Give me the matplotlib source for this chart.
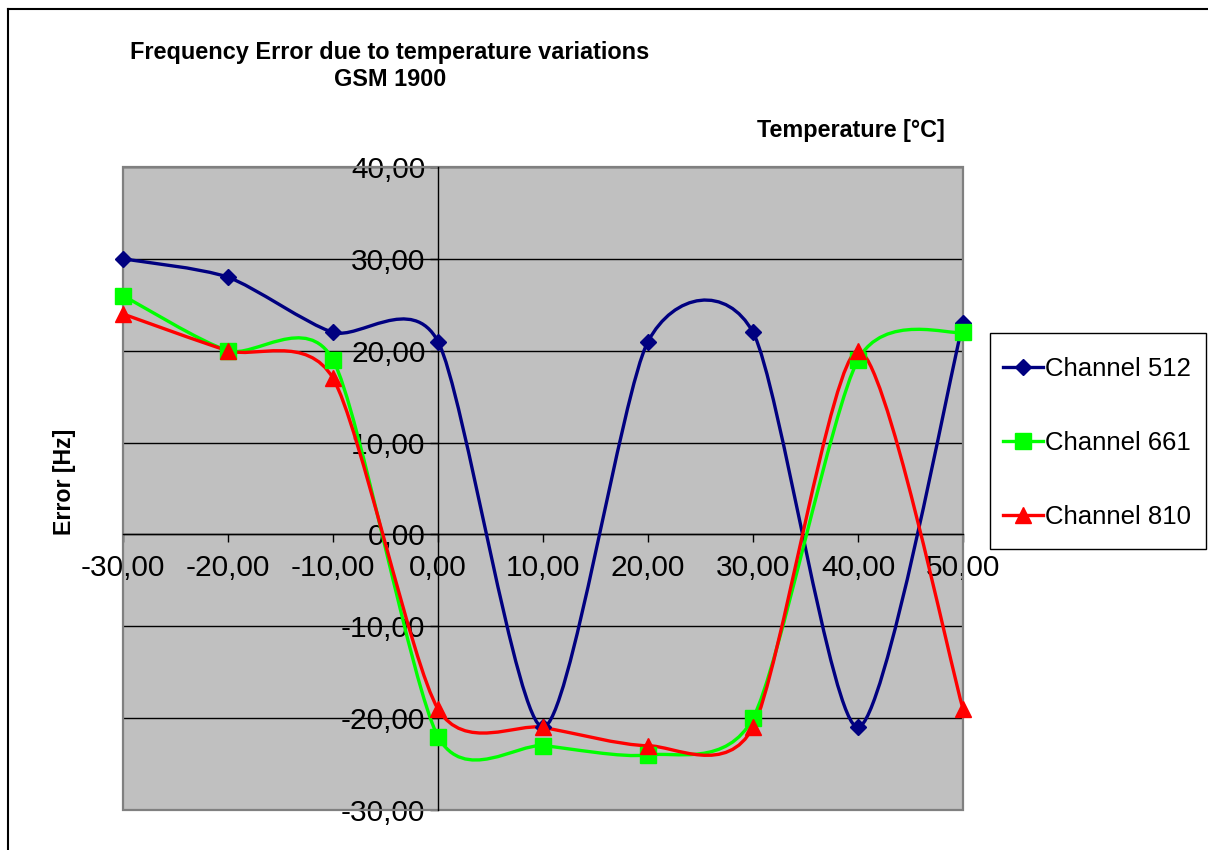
import numpy as np
import matplotlib.pyplot as plt
from matplotlib.path import Path
from matplotlib.patches import PathPatch, Rectangle
from matplotlib.lines import Line2D
from matplotlib.ticker import FuncFormatter

plt.rcParams['font.family'] = ['Liberation Sans', 'DejaVu Sans']

# data
temps = [-30, -20, -10, 0, 10, 20, 30, 40, 50]
ch512 = [30, 28, 22, 21, -21, 21, 22, -21, 23]
ch661 = [26, 20, 19, -22, -23, -24, -20, 19, 22]
ch810 = [24, 20, 17, -19, -21, -23, -21, 20, -19]

series = [
    ('Channel 512', ch512, '#000080', 'D', 8),
    ('Channel 661', ch661, '#00ff00', 's', 11),
    ('Channel 810', ch810, '#ff0000', '^', 11.5),
]

TENSION = 0.125  # a bit flatter than plain catmull-rom, closer to excel


def smooth_path(x, y):
    # excel-like smoothed line drawn as cubic bezier segments
    pts = np.column_stack([x, y]).astype(float)
    ext = np.vstack([pts[0], pts, pts[-1]])
    verts = [pts[0]]
    codes = [Path.MOVETO]
    for i in range(len(pts) - 1):
        p0, p1, p2, p3 = ext[i], ext[i + 1], ext[i + 2], ext[i + 3]
        verts += [p1 + (p2 - p0) * TENSION, p2 - (p3 - p1) * TENSION, p2]
        codes += [Path.CURVE4] * 3
    return Path(verts, codes)


fig = plt.figure(figsize=(12.08, 8.5), dpi=100)
ax = fig.add_axes([123 / 1208, 40 / 850, 840 / 1208, 643 / 850])
ax.set_facecolor('#c0c0c0')
ax.set_xlim(-30, 50)
ax.set_ylim(-30, 40)

ax.set_yticks(np.arange(-30, 41, 10))
ax.set_xticks(temps)
ax.yaxis.grid(True, color='black', lw=1.0)
ax.set_axisbelow(True)

fmt = FuncFormatter(lambda v, p: f'{v:.2f}'.replace('.', ','))
ax.xaxis.set_major_formatter(fmt)
ax.yaxis.set_major_formatter(fmt)

for s in ['top', 'right']:
    ax.spines[s].set_visible(False)
ax.spines['left'].set_position(('data', 0))
ax.spines['bottom'].set_position(('data', 0))
ax.spines['left'].set_linewidth(1.0)
ax.spines['bottom'].set_linewidth(1.0)
ax.add_patch(Rectangle((0, 0), 1, 1, transform=ax.transAxes, fill=False,
                       ec='#808080', lw=1.6, zorder=0.8, clip_on=False))

ax.tick_params(axis='both', direction='out', length=6, width=1.0,
               labelsize=21.5, color='black')
ax.tick_params(axis='y', pad=3)
ax.tick_params(axis='x', pad=8)

handles = []
for name, vals, col, mk, ms in series:
    ax.add_patch(PathPatch(smooth_path(temps, vals), fill=False, ec=col,
                           lw=2.4, zorder=3))
    ax.plot(temps, vals, ls='none', marker=mk, ms=ms, color=col,
            clip_on=False, zorder=4)
    handles.append(Line2D([], [], color=col, lw=2.4, marker=mk, ms=ms))

fig.text(390 / 1208, 1 - 66 / 850,
         'Frequency Error due to temperature variations\nGSM 1900',
         ha='center', va='center', fontsize=16.9, fontweight='bold',
         linespacing=1.25)
fig.text(851 / 1208, 1 - 131 / 850, 'Temperature [°C]', ha='center',
         va='center', fontsize=16.8, fontweight='bold')
fig.text(65 / 1208, 1 - 482 / 850, 'Error [Hz]', ha='center', va='center',
         fontsize=16.7, fontweight='bold', rotation=90)

# legend box drawn by hand, entries placed inside it
fig.add_artist(Rectangle((990 / 1208, 1 - 549 / 850), 216 / 1208, 216 / 850,
                         transform=fig.transFigure, fill=False, ec='black',
                         lw=1.0))
fig.legend(handles, [s[0] for s in series], loc='center left',
           bbox_to_anchor=(1003 / 1208, 1 - 443 / 850),
           borderaxespad=0, borderpad=0, fontsize=18.5, handlelength=1.55,
           handletextpad=0.1, labelspacing=1.95, frameon=False)

# outer chart border (top and left edges visible)
fig.add_artist(Line2D([8 / 1208, 8 / 1208], [0, 1 - 9 / 850],
                      transform=fig.transFigure, color='black', lw=1.5))
fig.add_artist(Line2D([8 / 1208, 1], [1 - 9 / 850, 1 - 9 / 850],
                      transform=fig.transFigure, color='black', lw=1.5))

fig.savefig('out.png', dpi=100)
